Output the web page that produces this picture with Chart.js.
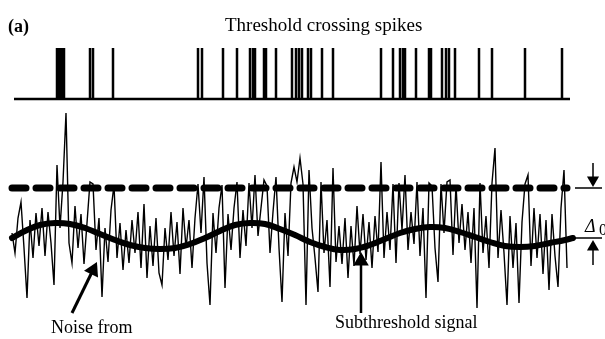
<!DOCTYPE html>
<html lang="en">
<head>
<meta charset="UTF-8">
<title>Threshold crossing spikes</title>
<script src="https://cdn.jsdelivr.net/npm/chart.js"></script>
<style>
  html, body { margin: 0; padding: 0; background: #fff; }
  canvas { display: block; }
</style>
</head>
<body>
<canvas id="chart" width="605" height="339"></canvas>
<script>
// spike times of the raster (same time axis as the traces)
const spikeTimes = [57, 59.5, 62, 64, 90, 93, 113, 198, 202, 223, 237, 250, 253, 255, 264, 266, 276,
  292, 296, 299, 302, 308, 311, 322, 333, 381, 393, 400, 403, 405, 416, 429, 431, 442, 446, 449, 455,
  479, 492, 525, 562];
const rasterBase = 13.9;
const rasterTop = 19.0;
const rasterRange = [14, 570];

// threshold
const threshold = 5.0;
const thresholdRange = [12, 567];

// subthreshold signal
const signalT = [12, 25, 40, 55, 70, 85, 100, 115, 130, 145, 160, 175, 190, 205, 220, 235, 250, 265,
  280, 295, 310, 325, 340, 355, 370, 385, 400, 415, 430, 445, 460, 475, 490, 505, 520, 535, 550, 565, 573];
const signalV = [0, 0.7, 1.3, 1.5, 1.4, 1.0, 0.4, -0.2, -0.7, -1.0, -1.1, -1.0, -0.6, 0, 0.7, 1.3, 1.5, 1.4,
  0.9, 0.3, -0.4, -0.9, -1.2, -1.1, -0.7, -0.1, 0.5, 0.9, 1.1, 1.0, 0.6, 0.1, -0.4, -0.8, -0.9, -0.8, -0.5, -0.2, 0];

// noisy trace, sampled every noiseStep from noiseStart
const noiseStart = 12;
const noiseStep = 3;
const noiseV = [
  0.5, -1.5, 2.0, 3.6, -1.0, -6.0, 1.8, -2.0, 2.5, -0.8,
  3.0, -1.8, 2.6, -0.5, -4.7, 7.3, 1.0, 5.6, 12.5, -0.5,
  -2.5, 3.2, -1.0, 2.4, -2.6, 1.5, 5.6, 5.4, -1.2, 2.0,
  -5.9, 1.0, -2.4, 2.8, 5.3, -2.0, 1.5, -3.2, 0.8, -2.5,
  1.8, -1.5, 2.6, -3.0, 3.4, -4.0, 1.2, -2.8, 2.0, -3.5,
  -4.7, 1.0, -2.2, 2.6, -1.8, 1.6, -3.6, 3.0, -1.0, 1.8,
  -3.0, 2.0, 5.4, 0.5, 6.1, -2.5, -6.7, 2.5, -1.5, 3.0,
  5.3, -5.0, 2.4, -1.2, 3.0, 5.6, -2.0, 2.8, -0.8, 5.5,
  1.0, 6.3, 0.2, 3.0, 5.8, 5.2, -1.5, 2.6, 6.1, -1.0,
  -6.4, 2.5, -1.8, 5.5, 7.1, 5.6, 8.0, 5.4, -6.7, 6.8,
  1.0, -2.0, -5.4, 5.6, -1.5, 1.8, -4.9, 7.0, -2.4, 1.2,
  -2.6, 2.0, -4.0, 1.2, -2.8, 3.2, -1.6, 2.4, -2.2, 1.6,
  -3.0, 2.2, -1.4, 7.6, -2.0, 2.6, -1.2, 5.4, -2.5, 5.5,
  0.8, 6.3, -1.2, 2.6, -0.6, 5.6, -1.8, 3.0, -6.0, 5.5,
  5.2, -1.0, -4.4, 5.4, 0.5, 5.6, 5.8, -1.7, 5.3, -0.5,
  3.4, -1.2, 2.6, -2.5, 3.0, -7.0, 5.5, -1.5, 2.2, -3.0,
  5.5, 9.0, -2.0, 2.8, -1.5, -6.7, 2.2, -3.0, 1.5, -6.5,
  1.6, 5.4, 6.3, -2.8, 3.0, -2.0, 2.4, -3.6, 1.8, -5.2,
  2.4, -1.8, -4.9, 3.0, 6.8, -3.0
];

// the Δ0 marker at the right
const markerRange = [575, 602];
const markerLevels = [threshold, 0];

// arrows: [tail, head centre], head rotation in degrees
const arrows = [
  { from: [72, -7.5], to: [93, -3.2], rot: 26, r: 9, w: 3 },
  { from: [361, -7.5], to: [361, -2.3], rot: 0, r: 9, w: 2.5 },
  { from: [593, 7.5], to: [593, 5.8], rot: 180, r: 7, w: 1.5 },
  { from: [593, -2.7], to: [593, -0.9], rot: 0, r: 7, w: 1.5 }
];

const black = '#000';

// raster: one segment per spike, broken by nulls
const rasterData = [];
spikeTimes.forEach(t => {
  rasterData.push({ x: t, y: rasterBase }, { x: t, y: rasterTop }, { x: t, y: null });
});

const markerData = [];
markerLevels.forEach(v => {
  markerData.push({ x: markerRange[0], y: v }, { x: markerRange[1], y: v }, { x: markerRange[1], y: null });
});

function lineSet(data, width, extra) {
  return Object.assign({
    data: data,
    borderColor: black,
    backgroundColor: black,
    borderWidth: width,
    pointRadius: 0,
    tension: 0,
    spanGaps: false
  }, extra || {});
}

const datasets = [
  lineSet([{ x: rasterRange[0], y: rasterBase }, { x: rasterRange[1], y: rasterBase }], 2.5),
  lineSet(rasterData, 2.5),
  lineSet(noiseV.map((v, i) => ({ x: noiseStart + i * noiseStep, y: v })), 1.4),
  lineSet(signalT.map((t, i) => ({ x: t, y: signalV[i] })), 6, { tension: 0.4, borderCapStyle: 'round' }),
  lineSet([{ x: thresholdRange[0], y: threshold }, { x: thresholdRange[1], y: threshold }], 7,
    { borderDash: [14, 10], borderCapStyle: 'round' }),
  lineSet(markerData, 1.5)
];

arrows.forEach(a => {
  datasets.push(lineSet([{ x: a.from[0], y: a.from[1] }, { x: a.to[0], y: a.to[1] }], a.w, {
    pointRadius: [0, a.r],
    pointStyle: 'triangle',
    pointRotation: a.rot,
    pointBorderWidth: 0,
    pointBackgroundColor: black
  }));
});

// text labels, placed in data units
const labels = [
  { text: '(a)', x: 8, y: 20.6, font: 'bold 18px "Liberation Serif"' },
  { text: 'Threshold crossing spikes', x: 225, y: 20.7, font: '19px "Liberation Serif"' },
  { text: 'Noise from', x: 51, y: -9.5, font: '18px "Liberation Serif"' },
  { text: 'Subthreshold signal', x: 335, y: -9.0, font: '18px "Liberation Serif"' },
  { text: 'Δ', x: 585, y: 0.6, font: 'italic 18px "Liberation Serif"' },
  { text: '0', x: 599, y: 0.3, font: '16px "Liberation Serif"' }
];

const textPlugin = {
  id: 'texts',
  afterDraw(chart) {
    const ctx = chart.ctx;
    const xs = chart.scales.x, ys = chart.scales.y;
    ctx.save();
    ctx.fillStyle = black;
    ctx.textBaseline = 'alphabetic';
    ctx.textAlign = 'left';
    labels.forEach(l => {
      ctx.font = l.font;
      ctx.fillText(l.text, xs.getPixelForValue(l.x), ys.getPixelForValue(l.y));
    });
    ctx.restore();
  }
};

new Chart(document.getElementById('chart'), {
  type: 'line',
  data: { datasets: datasets },
  options: {
    responsive: false,
    devicePixelRatio: 1,
    animation: false,
    layout: { padding: 0, autoPadding: false },
    plugins: { legend: { display: false }, tooltip: { enabled: false }, title: { display: false } },
    scales: {
      x: { type: 'linear', min: 0, max: 605, display: false },
      y: { type: 'linear', min: -10.1, max: 23.8, display: false }
    }
  },
  plugins: [textPlugin]
});
</script>
</body>
</html>
